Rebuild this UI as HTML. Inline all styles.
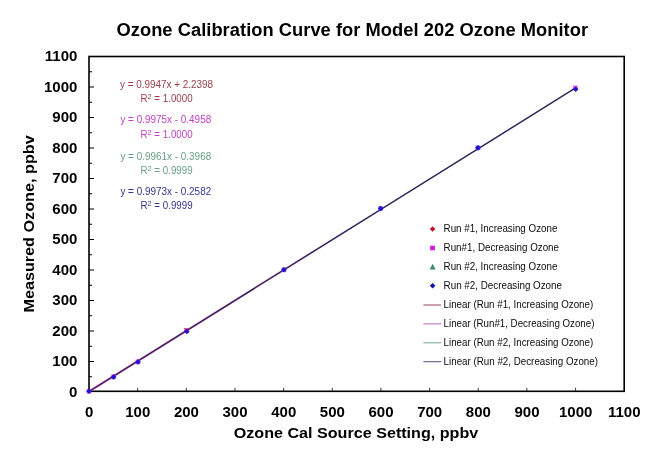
<!DOCTYPE html>
<html><head><meta charset="utf-8"><title>Ozone Calibration Curve</title>
<style>
html,body{margin:0;padding:0;background:#fff;}
body{width:665px;height:459px;overflow:hidden;}
svg{display:block;}
text{font-family:"Liberation Sans",Arial,sans-serif;}
.b{font-weight:bold;fill:#000;}
</style></head><body>
<svg width="665" height="459" viewBox="0 0 665 459">
<rect width="665" height="459" fill="#fff"/>
<text class="b" x="116.5" y="35.8" font-size="18.3" textLength="471.5" lengthAdjust="spacing">Ozone Calibration Curve for Model 202 Ozone Monitor</text>
<rect x="89.0" y="56.5" width="535.20" height="334.80" fill="none" stroke="#000" stroke-width="1.6"/>
<line x1="89.0" y1="376.75" x2="92.0" y2="376.75" stroke="#000" stroke-width="1"/>
<line x1="89.0" y1="361.50" x2="94.0" y2="361.50" stroke="#000" stroke-width="1"/>
<line x1="89.0" y1="346.25" x2="92.0" y2="346.25" stroke="#000" stroke-width="1"/>
<line x1="89.0" y1="331.00" x2="94.0" y2="331.00" stroke="#000" stroke-width="1"/>
<line x1="89.0" y1="315.75" x2="92.0" y2="315.75" stroke="#000" stroke-width="1"/>
<line x1="89.0" y1="300.50" x2="94.0" y2="300.50" stroke="#000" stroke-width="1"/>
<line x1="89.0" y1="285.25" x2="92.0" y2="285.25" stroke="#000" stroke-width="1"/>
<line x1="89.0" y1="270.00" x2="94.0" y2="270.00" stroke="#000" stroke-width="1"/>
<line x1="89.0" y1="254.75" x2="92.0" y2="254.75" stroke="#000" stroke-width="1"/>
<line x1="89.0" y1="239.50" x2="94.0" y2="239.50" stroke="#000" stroke-width="1"/>
<line x1="89.0" y1="224.25" x2="92.0" y2="224.25" stroke="#000" stroke-width="1"/>
<line x1="89.0" y1="209.00" x2="94.0" y2="209.00" stroke="#000" stroke-width="1"/>
<line x1="89.0" y1="193.75" x2="92.0" y2="193.75" stroke="#000" stroke-width="1"/>
<line x1="89.0" y1="178.50" x2="94.0" y2="178.50" stroke="#000" stroke-width="1"/>
<line x1="89.0" y1="163.25" x2="92.0" y2="163.25" stroke="#000" stroke-width="1"/>
<line x1="89.0" y1="148.00" x2="94.0" y2="148.00" stroke="#000" stroke-width="1"/>
<line x1="89.0" y1="132.75" x2="92.0" y2="132.75" stroke="#000" stroke-width="1"/>
<line x1="89.0" y1="117.50" x2="94.0" y2="117.50" stroke="#000" stroke-width="1"/>
<line x1="89.0" y1="102.25" x2="92.0" y2="102.25" stroke="#000" stroke-width="1"/>
<line x1="89.0" y1="87.00" x2="94.0" y2="87.00" stroke="#000" stroke-width="1"/>
<line x1="89.0" y1="71.75" x2="92.0" y2="71.75" stroke="#000" stroke-width="1"/>
<line x1="137.65" y1="391.3" x2="137.65" y2="387.9" stroke="#222" stroke-width="0.9"/>
<line x1="186.31" y1="391.3" x2="186.31" y2="387.9" stroke="#222" stroke-width="0.9"/>
<line x1="234.96" y1="391.3" x2="234.96" y2="387.9" stroke="#222" stroke-width="0.9"/>
<line x1="283.62" y1="391.3" x2="283.62" y2="387.9" stroke="#222" stroke-width="0.9"/>
<line x1="332.27" y1="391.3" x2="332.27" y2="387.9" stroke="#222" stroke-width="0.9"/>
<line x1="380.93" y1="391.3" x2="380.93" y2="387.9" stroke="#222" stroke-width="0.9"/>
<line x1="429.58" y1="391.3" x2="429.58" y2="387.9" stroke="#222" stroke-width="0.9"/>
<line x1="478.24" y1="391.3" x2="478.24" y2="387.9" stroke="#222" stroke-width="0.9"/>
<line x1="526.89" y1="391.3" x2="526.89" y2="387.9" stroke="#222" stroke-width="0.9"/>
<line x1="575.55" y1="391.3" x2="575.55" y2="387.9" stroke="#222" stroke-width="0.9"/>
<text class="b" x="77.4" y="397" font-size="15" text-anchor="end">0</text>
<text class="b" x="89.10" y="417" font-size="15" text-anchor="middle">0</text>
<text class="b" x="77.4" y="366" font-size="15" text-anchor="end">100</text>
<text class="b" x="137.75" y="417" font-size="15" text-anchor="middle">100</text>
<text class="b" x="77.4" y="336" font-size="15" text-anchor="end">200</text>
<text class="b" x="186.41" y="417" font-size="15" text-anchor="middle">200</text>
<text class="b" x="77.4" y="305" font-size="15" text-anchor="end">300</text>
<text class="b" x="235.06" y="417" font-size="15" text-anchor="middle">300</text>
<text class="b" x="77.4" y="275" font-size="15" text-anchor="end">400</text>
<text class="b" x="283.72" y="417" font-size="15" text-anchor="middle">400</text>
<text class="b" x="77.4" y="244" font-size="15" text-anchor="end">500</text>
<text class="b" x="332.37" y="417" font-size="15" text-anchor="middle">500</text>
<text class="b" x="77.4" y="214" font-size="15" text-anchor="end">600</text>
<text class="b" x="381.03" y="417" font-size="15" text-anchor="middle">600</text>
<text class="b" x="77.4" y="183" font-size="15" text-anchor="end">700</text>
<text class="b" x="429.68" y="417" font-size="15" text-anchor="middle">700</text>
<text class="b" x="77.4" y="153" font-size="15" text-anchor="end">800</text>
<text class="b" x="478.34" y="417" font-size="15" text-anchor="middle">800</text>
<text class="b" x="77.4" y="122" font-size="15" text-anchor="end">900</text>
<text class="b" x="526.99" y="417" font-size="15" text-anchor="middle">900</text>
<text class="b" x="77.4" y="92" font-size="15" text-anchor="end">1000</text>
<text class="b" x="575.65" y="417" font-size="15" text-anchor="middle">1000</text>
<text class="b" x="77.4" y="61" font-size="15" text-anchor="end">1100</text>
<text class="b" x="624.30" y="417" font-size="15" text-anchor="middle">1100</text>
<text class="b" x="233.7" y="437.8" font-size="15.5" textLength="244.6" lengthAdjust="spacingAndGlyphs">Ozone Cal Source Setting, ppbv</text>
<text class="b" transform="translate(34.2,312.6) rotate(-90)" font-size="15.5" textLength="177.3" lengthAdjust="spacingAndGlyphs">Measured Ozone, ppbv</text>
<defs><linearGradient id="lg" gradientUnits="userSpaceOnUse" x1="89" y1="0" x2="400" y2="0"><stop offset="0" stop-color="#b02890" stop-opacity="0.6"/><stop offset="0.5" stop-color="#b02890" stop-opacity="0.4"/><stop offset="1" stop-color="#b02890" stop-opacity="0"/></linearGradient><linearGradient id="lm" gradientUnits="userSpaceOnUse" x1="89" y1="0" x2="400" y2="0"><stop offset="0" stop-color="#3c1458"/><stop offset="1" stop-color="#2a2458"/></linearGradient></defs>
<line x1="89.00" y1="391.50" x2="575.55" y2="87.92" stroke="url(#lg)" stroke-width="2.2"/>
<line x1="89.00" y1="391.50" x2="575.55" y2="87.92" stroke="url(#lm)" stroke-width="1.4"/>
<rect x="86.70" y="388.90" width="4.6" height="4.6" fill="#d428d4" opacity="0.8"/>
<path d="M89.00 388.40 L91.80 391.20 L89.00 394.00 L86.20 391.20Z" fill="#2014d0"/>
<rect x="111.23" y="374.60" width="4.6" height="4.6" fill="#d428d4" opacity="0.8"/>
<path d="M113.53 374.10 L116.33 376.90 L113.53 379.70 L110.73 376.90Z" fill="#2014d0"/>
<rect x="135.65" y="359.59" width="4.6" height="4.6" fill="#d428d4" opacity="0.8"/>
<path d="M137.95 359.09 L140.75 361.89 L137.95 364.69 L135.15 361.89Z" fill="#2014d0"/>
<rect x="184.11" y="328.08" width="4.6" height="4.6" fill="#d01478" opacity="0.8"/>
<path d="M186.81 328.58 L189.61 331.38 L186.81 334.18 L184.01 331.38Z" fill="#2014d0"/>
<rect x="281.62" y="267.47" width="4.6" height="4.6" fill="#6a40d0" opacity="0.8"/>
<path d="M283.92 266.97 L286.72 269.77 L283.92 272.57 L281.12 269.77Z" fill="#2014d0"/>
<rect x="378.33" y="206.25" width="4.6" height="4.6" fill="#6a40d0" opacity="0.8"/>
<path d="M380.63 205.75 L383.43 208.55 L380.63 211.35 L377.83 208.55Z" fill="#2014d0"/>
<rect x="475.64" y="145.53" width="4.6" height="4.6" fill="#6a40d0" opacity="0.8"/>
<path d="M477.94 145.03 L480.74 147.83 L477.94 150.63 L475.14 147.83Z" fill="#2014d0"/>
<rect x="573.05" y="85.62" width="4.6" height="4.6" fill="#e020e0" opacity="0.8"/>
<path d="M575.65 86.42 L578.45 89.22 L575.65 92.02 L572.85 89.22Z" fill="#2014d0"/>
<text x="120.0" y="88" font-size="10.4" fill="#9a3c4a" textLength="93.0" lengthAdjust="spacingAndGlyphs">y = 0.9947x + 2.2398</text>
<text x="140.4" y="102" font-size="10.4" fill="#9a3c4a" textLength="52.2" lengthAdjust="spacingAndGlyphs">R<tspan dy="-3.4" font-size="8">2</tspan><tspan dy="3.4"> = 1.0000</tspan></text>
<text x="120.4" y="123" font-size="10.4" fill="#c040c4" textLength="90.8" lengthAdjust="spacingAndGlyphs">y = 0.9975x - 0.4958</text>
<text x="140.4" y="138" font-size="10.4" fill="#c040c4" textLength="52.2" lengthAdjust="spacingAndGlyphs">R<tspan dy="-3.4" font-size="8">2</tspan><tspan dy="3.4"> = 1.0000</tspan></text>
<text x="120.4" y="160" font-size="10.4" fill="#6a9c88" textLength="90.8" lengthAdjust="spacingAndGlyphs">y = 0.9961x - 0.3968</text>
<text x="140.4" y="174" font-size="10.4" fill="#6a9c88" textLength="52.2" lengthAdjust="spacingAndGlyphs">R<tspan dy="-3.4" font-size="8">2</tspan><tspan dy="3.4"> = 0.9999</tspan></text>
<text x="120.4" y="195" font-size="10.4" fill="#34348c" textLength="90.8" lengthAdjust="spacingAndGlyphs">y = 0.9973x - 0.2582</text>
<text x="140.4" y="209" font-size="10.4" fill="#34348c" textLength="52.2" lengthAdjust="spacingAndGlyphs">R<tspan dy="-3.4" font-size="8">2</tspan><tspan dy="3.4"> = 0.9999</tspan></text>
<path d="M432.6 226.2 L435.40000000000003 229.0 L432.6 231.8 L429.8 229.0Z" fill="#c81028"/>
<text x="443.6" y="232.00" font-size="10.4" fill="#0a0a0a" textLength="113.8" lengthAdjust="spacingAndGlyphs">Run #1, Increasing Ozone</text>
<rect x="430.2" y="245.7" width="4.7" height="4.6" fill="#d418d4"/>
<text x="443.6" y="250.90" font-size="10.4" fill="#0a0a0a" textLength="115.4" lengthAdjust="spacingAndGlyphs">Run#1, Decreasing Ozone</text>
<path d="M432.6 263.8 L435.5 269.6 L429.70000000000005 269.6Z" fill="#3a8a70"/>
<text x="443.6" y="269.80" font-size="10.4" fill="#0a0a0a" textLength="113.8" lengthAdjust="spacingAndGlyphs">Run #2, Increasing Ozone</text>
<path d="M432.6 282.9 L435.40000000000003 285.7 L432.6 288.5 L429.8 285.7Z" fill="#1414a8"/>
<text x="443.6" y="288.70" font-size="10.4" fill="#0a0a0a" textLength="118.4" lengthAdjust="spacingAndGlyphs">Run #2, Decreasing Ozone</text>
<line x1="423.4" y1="305.00" x2="441.2" y2="305.00" stroke="#a85860" stroke-width="1.1"/>
<text x="443.6" y="308.00" font-size="10.4" fill="#0a0a0a" textLength="149.6" lengthAdjust="spacingAndGlyphs">Linear (Run #1, Increasing Ozone)</text>
<line x1="423.4" y1="323.90" x2="441.2" y2="323.90" stroke="#c070c8" stroke-width="1.1"/>
<text x="443.6" y="327.00" font-size="10.4" fill="#0a0a0a" textLength="150.8" lengthAdjust="spacingAndGlyphs">Linear (Run#1, Decreasing Ozone)</text>
<line x1="423.4" y1="342.80" x2="441.2" y2="342.80" stroke="#80a898" stroke-width="1.1"/>
<text x="443.6" y="346.00" font-size="10.4" fill="#0a0a0a" textLength="149.6" lengthAdjust="spacingAndGlyphs">Linear (Run #2, Increasing Ozone)</text>
<line x1="423.4" y1="361.70" x2="441.2" y2="361.70" stroke="#5a5a98" stroke-width="1.1"/>
<text x="443.6" y="365.00" font-size="10.4" fill="#0a0a0a" textLength="154.4" lengthAdjust="spacingAndGlyphs">Linear (Run #2, Decreasing Ozone)</text>
</svg>
</body></html>
